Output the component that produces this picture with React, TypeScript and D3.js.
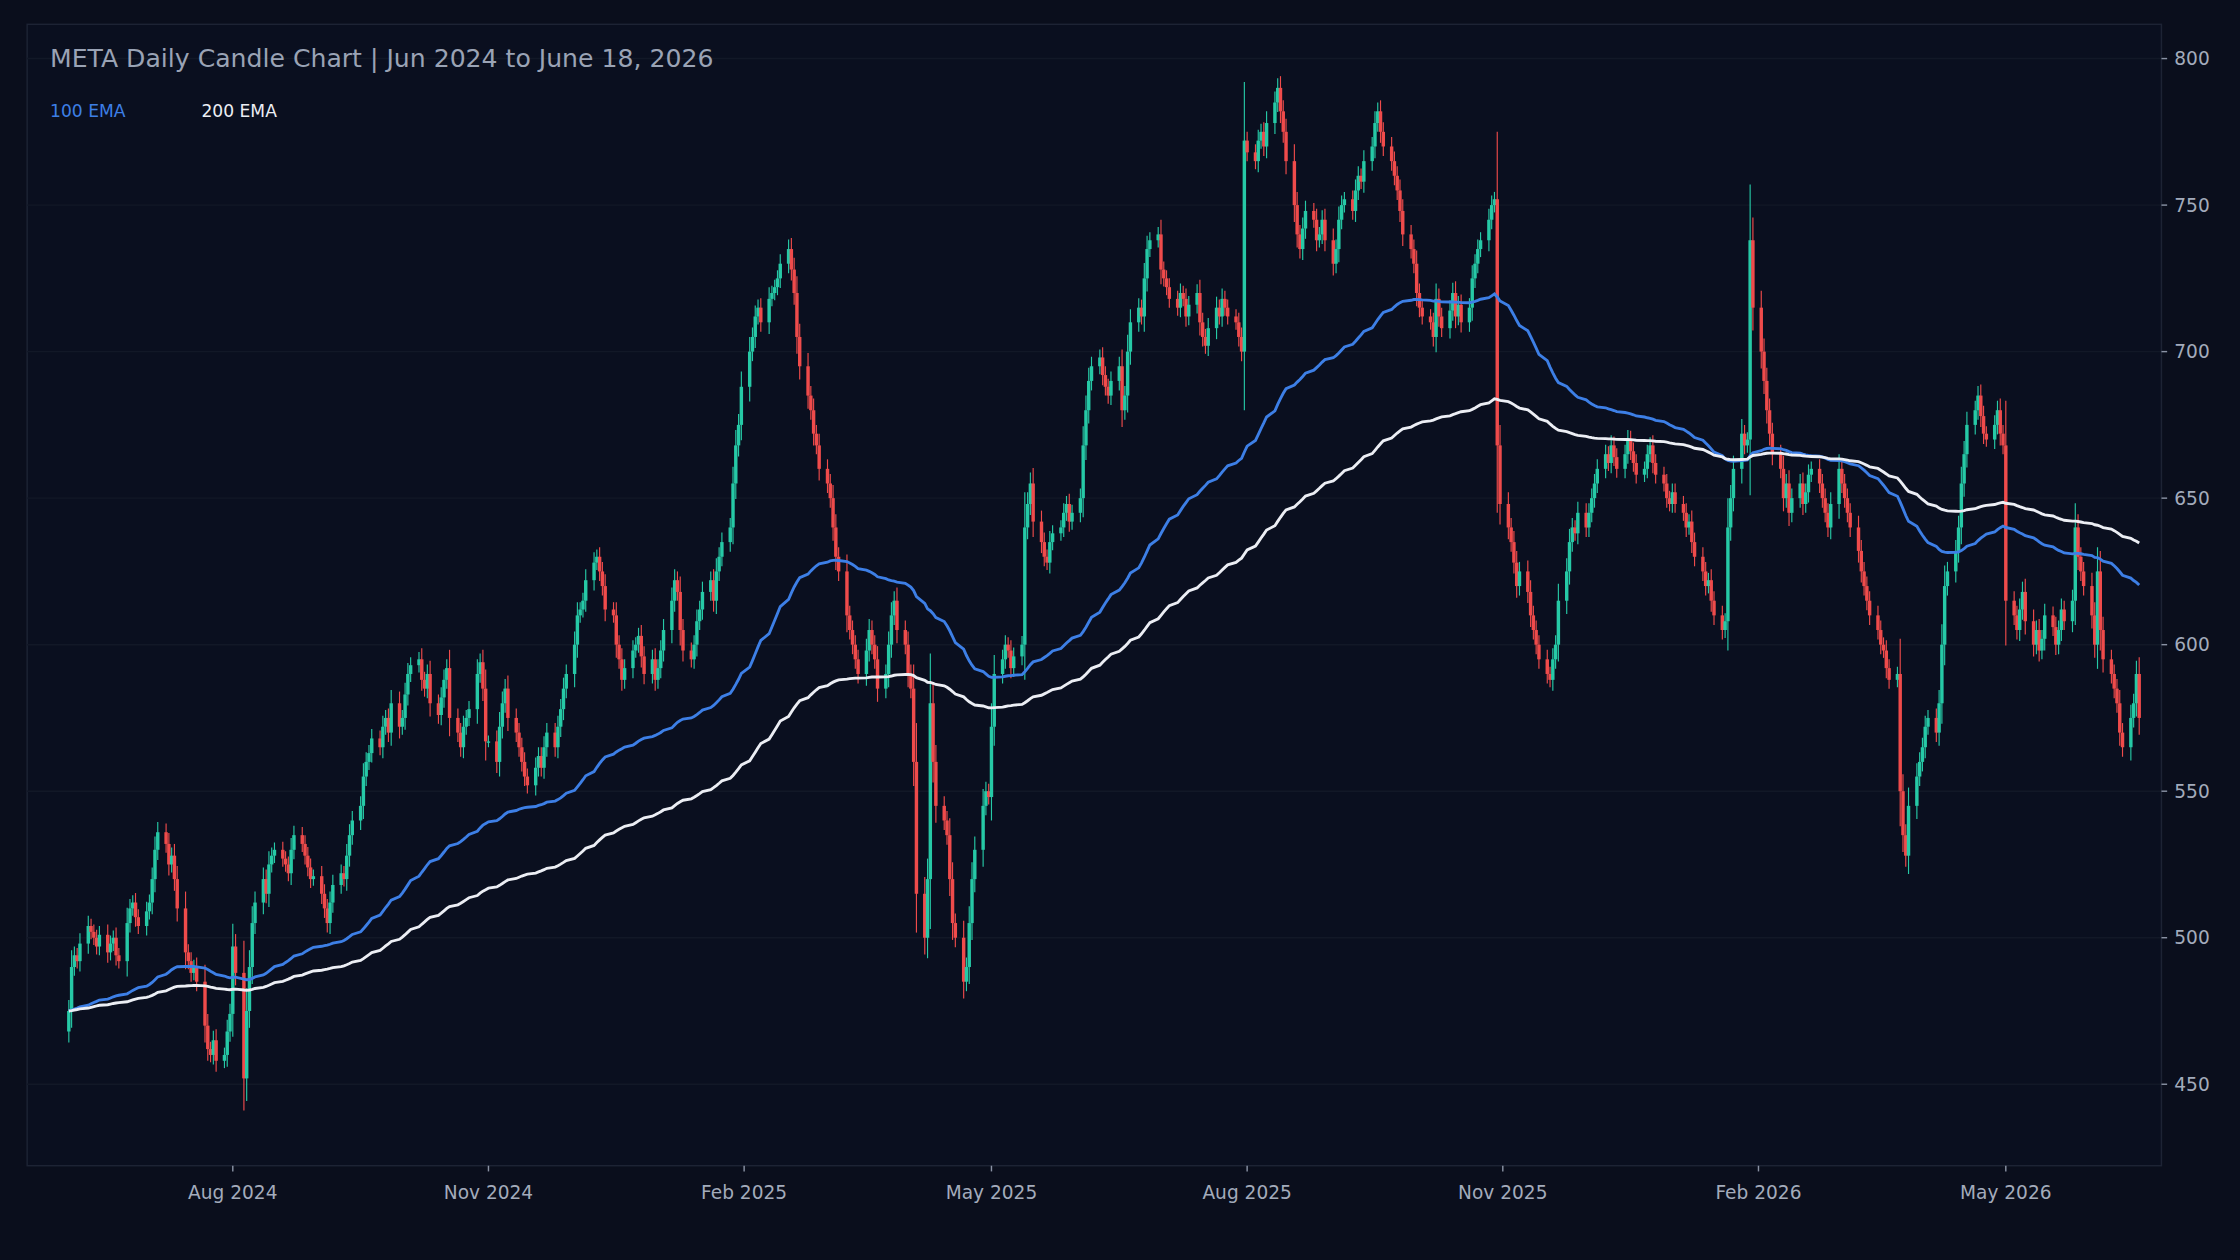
import { useMemo } from "react";
import * as d3 from "d3";

const TITLE = "META Daily Candle Chart | Jun 2024 to June 18, 2026";
const START = "2024-06-03";
const END = "2026-06-18";
const FIRST_OPEN = 468;

// closes per month, in trading-day order
const monthKeys = [
  "2024-06", "2024-07", "2024-08", "2024-09", "2024-10", "2024-11", "2024-12",
  "2025-01", "2025-02", "2025-03", "2025-04", "2025-05", "2025-06", "2025-07",
  "2025-08", "2025-09", "2025-10", "2025-11", "2025-12",
  "2026-01", "2026-02", "2026-03", "2026-04", "2026-05", "2026-06",
];
const closesByMonth: number[][] = [
  [475, 490, 494, 492, 498, 504, 502, 500, 497, 501, 495, 498, 500, 494, 492, 505, 510, 512, 507, 504],
  [509, 512, 520, 530, 536, 532, 525, 528, 520, 510, 495, 492, 488, 490, 485, 470, 462, 460, 465, 458, 460, 468, 474],
  [497, 488, 452, 475, 490, 505, 512, 520, 515, 525, 528, 530, 527, 525, 522, 530, 535, 532, 528, 524, 520, 521],
  [515, 510, 505, 512, 518, 522, 520, 528, 535, 540, 545, 555, 560, 563, 568, 565, 572, 575, 570, 580, 572],
  [575, 583, 590, 593, 595, 588, 585, 590, 580, 576, 582, 588, 592, 575, 570, 565, 572, 575, 578, 590, 594, 585, 567],
  [567, 560, 572, 580, 585, 575, 570, 565, 560, 555, 552, 558, 562, 558, 565, 570, 565, 572, 578, 585, 590],
  [600, 610, 612, 615, 622, 628, 630, 625, 620, 612, 610, 600, 595, 588, 592, 598, 600, 603, 596, 590, 595, 588],
  [592, 598, 605, 615, 622, 618, 605, 598, 595, 600, 608, 612, 618, 622, 615, 625, 630, 635, 640, 655, 668, 675, 688],
  [700, 705, 712, 715, 710, 718, 720, 722, 725, 730, 735, 728, 720, 705, 695, 685, 680, 672, 668, 660],
  [655, 650, 640, 630, 625, 610, 605, 600, 595, 590, 598, 605, 600, 595, 585, 590, 600, 610, 615, 605, 600],
  [590, 585, 560, 515, 500, 520, 580, 560, 545, 540, 535, 520, 505, 500, 485, 490, 505, 520, 530, 545, 550, 548],
  [572, 590, 595, 600, 598, 592, 596, 600, 640, 648, 655, 642, 635, 630, 628, 635, 638, 640, 645, 648, 642, 645],
  [650, 668, 680, 690, 695, 698, 692, 688, 685, 690, 695, 680, 685, 700, 710, 715, 712, 725, 735, 738, 740],
  [728, 725, 722, 718, 715, 720, 718, 712, 716, 720, 710, 705, 702, 708, 715, 712, 718, 715, 712, 710, 705, 700, 772],
  [768, 765, 772, 775, 770, 778, 785, 790, 782, 775, 765, 750, 740, 735, 742, 748, 745, 738, 740, 745, 738],
  [730, 735, 745, 750, 752, 748, 755, 760, 758, 765, 770, 778, 782, 775, 770, 765, 760, 755, 748, 740, 735, 730],
  [720, 715, 712, 710, 705, 718, 712, 708, 714, 720, 712, 716, 710, 715, 725, 730, 735, 738, 745, 750, 752, 668, 648],
  [640, 635, 628, 620, 625, 618, 610, 605, 600, 595, 590, 588, 595, 600, 615, 625, 635, 640, 638, 645],
  [640, 645, 650, 655, 660, 665, 662, 668, 664, 660, 665, 670, 666, 662, 658, 660, 665, 668, 662, 658, 655, 650, 648],
  [652, 648, 645, 640, 642, 635, 630, 625, 620, 622, 615, 610, 605, 608, 640, 650, 660, 672, 668, 670, 738, 715],
  [700, 690, 680, 672, 665, 660, 650, 655, 645, 650, 655, 648, 652, 658, 660, 655, 650, 645, 640, 648],
  [660, 655, 650, 645, 640, 632, 625, 620, 615, 610, 605, 600, 598, 592, 588, 590, 550, 535, 528, 545, 555, 560],
  [565, 572, 575, 570, 580, 600, 620, 625, 632, 640, 655, 665, 675, 680, 685, 678, 672, 670, 675, 680, 672, 668],
  [615, 610, 605, 612, 618, 608, 600, 605, 598, 602, 610, 606, 600, 605, 612, 608, 615, 640, 630, 625, 620],
  [610, 600, 625, 605, 595, 590, 585, 580, 570, 565, 575, 580, 590, 575],
];
const priceTicks = [450, 500, 550, 600, 650, 700, 750, 800];
const dateTicks = ["2024-08-01", "2024-11-01", "2025-02-01", "2025-05-01", "2025-08-01", "2025-11-01", "2026-02-01", "2026-05-01"];
const emaSpecs = [
  { n: 100, label: "100 EMA", color: "#3d7fe6" },
  { n: 200, label: "200 EMA", color: "#eceef4" },
];

const W = 1568, H = 882;
const plot = { x0: 19, x1: 1513, y0: 17, y1: 816 };
const UP = "#26c9a6", DOWN = "#ef4b4b";

type Candle = { date: Date; o: number; h: number; l: number; c: number };

export default function App() {
  const candles = useMemo(() => {
    const parse = d3.timeParse("%Y-%m-%d");
    const days = d3.timeDay.range(parse(START)!, d3.timeDay.offset(parse(END)!, 1))
      .filter(d => d.getDay() !== 0 && d.getDay() !== 6);
    const out: Candle[] = [];
    let prev = FIRST_OPEN;
    monthKeys.forEach((mk, mi) => {
      const md = days.filter(d => d3.timeFormat("%Y-%m")(d) === mk);
      closesByMonth[mi].forEach((c, i) => {
        if (i >= md.length) return;
        const o = prev;
        const r = Math.abs(c - o);
        out.push({ date: md[i], o, c, h: Math.max(o, c) + 2 + r * 0.25, l: Math.min(o, c) - 2 - r * 0.25 });
        prev = c;
      });
    });
    return out;
  }, []);

  const x = d3.scaleTime()
    .domain([new Date(2024, 4, 19), new Date(2026, 5, 26)])
    .range([plot.x0, plot.x1]);
  const y = d3.scaleLinear().domain([422.2, 811.7]).range([plot.y1, plot.y0]);

  const emas = emaSpecs.map(s => {
    const k = 2 / (s.n + 1);
    let e = candles[0].c;
    const pts = candles.map(d => { e = d.c * k + e * (1 - k); return [x(d.date), y(e)] as [number, number]; });
    return { ...s, path: d3.line()(pts)! };
  });

  const fmt = d3.timeFormat("%b %Y");
  const parse = d3.timeParse("%Y-%m-%d");

  return (
    <svg width={2240} height={1260} viewBox={`0 0 ${W} ${H}`}
      style={{ position: "fixed", left: 0, top: 0, background: "#0a0e1c" }}
      fontFamily="DejaVu Sans, sans-serif">
      <rect width={W} height={H} fill="#0a0e1c" />
      <rect x={plot.x0} y={plot.y0} width={plot.x1 - plot.x0} height={plot.y1 - plot.y0}
        fill="#0a0f1f" stroke="#1d2334" strokeWidth={1} />
      {priceTicks.map(p => (
        <g key={p}>
          <line x1={plot.x0} x2={plot.x1} y1={y(p)} y2={y(p)} stroke="#121827" strokeWidth={1} />
          <line x1={plot.x1} x2={plot.x1 + 4} y1={y(p)} y2={y(p)} stroke="#8a92a4" />
          <text x={plot.x1 + 9} y={y(p) + 4.5} fontSize={13} fill="#a3abbb">{p}</text>
        </g>
      ))}
      {dateTicks.map(t => {
        const d = parse(t)!;
        return (
          <g key={t}>
            <line x1={x(d)} x2={x(d)} y1={plot.y1} y2={plot.y1 + 4} stroke="#8a92a4" />
            <text x={x(d)} y={plot.y1 + 23} fontSize={13} fill="#a3abbb" textAnchor="middle">{fmt(d)}</text>
          </g>
        );
      })}
      {candles.map((d, i) => {
        const col = d.c >= d.o ? UP : DOWN;
        const cx = x(d.date);
        const top = y(Math.max(d.o, d.c)), bot = y(Math.min(d.o, d.c));
        return (
          <g key={i}>
            <line x1={cx} x2={cx} y1={y(d.h)} y2={y(d.l)} stroke={col} strokeWidth={0.8} />
            <rect x={cx - 1.2} y={top} width={2.4} height={Math.max(1, bot - top)} fill={col} />
          </g>
        );
      })}
      {emas.map(e => (
        <path key={e.n} d={e.path} fill="none" stroke={e.color} strokeWidth={2} />
      ))}
      <text x={35} y={47} fontSize={17.6} fill="#9aa3b5">{TITLE}</text>
      {emas.map((e, i) => (
        <text key={e.n} x={35 + i * 106} y={82} fontSize={12} fill={e.color}>{e.label}</text>
      ))}
    </svg>
  );
}
